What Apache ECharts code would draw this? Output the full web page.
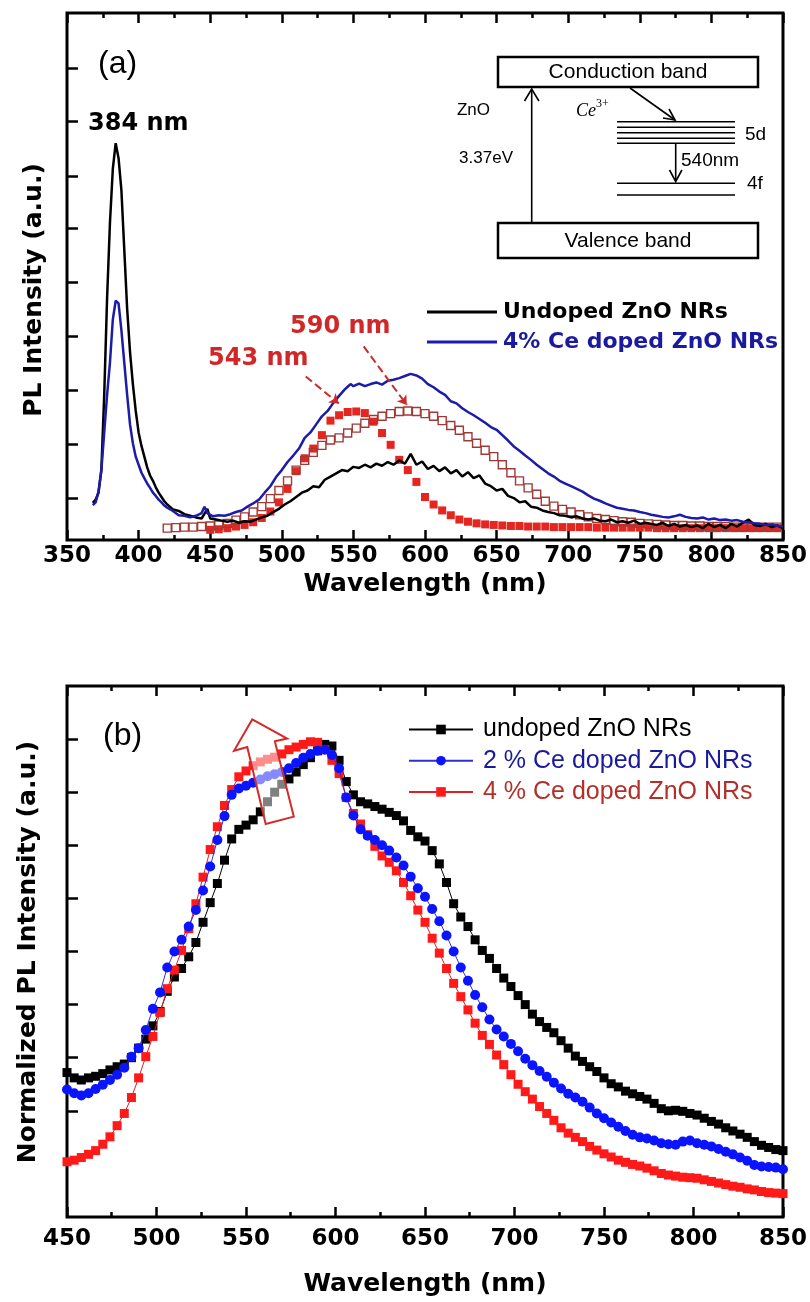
<!DOCTYPE html>
<html><head><meta charset="utf-8">
<script src="https://cdn.jsdelivr.net/npm/echarts@6/dist/echarts.min.js"></script>
<style>html,body{margin:0;padding:0;background:#fff}#c{width:810px;height:1302px}</style>
</head><body><div id="c"></div>
<script>
// ---------- Panel (a) data: [wavelength nm, PL intensity a.u.] ----------
const undopedA = [[368,0.069],[370,0.075],[372,0.088],[374,0.13],[376,0.27],[378,0.45],[380,0.59],[382,0.69],[384,0.738],[386,0.71],[388,0.65],[390,0.54],[392,0.43],[394,0.35],[396,0.29],[398,0.24],[400,0.2],[402,0.175],[404,0.155],[406,0.135],[408,0.12],[410,0.11],[412,0.098],[414,0.088],[416,0.08],[418,0.072],[420,0.066],
[424,0.057],[428,0.054],[432,0.048],[436,0.045],[440,0.042],[444,0.04],[448,0.058],[450,0.04],[454,0.038],[458,0.036],[462,0.034],[466,0.036],[470,0.032],[474,0.035],[478,0.034],[482,0.038],[486,0.042],[490,0.045],[494,0.052],[498,0.058],[502,0.066],[506,0.072],[510,0.08],[514,0.088],[518,0.092],[522,0.1],[526,0.098],[530,0.112],[534,0.118],[538,0.124],[542,0.13],[546,0.128],[550,0.136],[554,0.134],[558,0.14],[562,0.135],[566,0.142],[570,0.138],[574,0.145],[578,0.14],[582,0.148],[586,0.142],[590,0.16],[594,0.14],[598,0.146],[602,0.132],[606,0.138],[610,0.128],[614,0.135],[618,0.124],[622,0.13],[626,0.118],[630,0.126],[634,0.115],[638,0.12],[642,0.105],[646,0.1],[650,0.092],[654,0.095],[658,0.082],[662,0.078],[666,0.07],[670,0.072],[674,0.062],[678,0.06],[682,0.055],[686,0.052],[690,0.05],[694,0.046],[698,0.045],[702,0.042],[706,0.044],[710,0.04],[714,0.038],[718,0.04],[722,0.036],[726,0.035],[730,0.038],[734,0.033],[738,0.035],[742,0.032],[746,0.036],[750,0.03],[754,0.032],[758,0.03],[762,0.028],[766,0.032],[770,0.026],[774,0.03],[778,0.025],[782,0.028],[786,0.024],[790,0.027],[794,0.022],[798,0.03],[802,0.024],[806,0.028],[810,0.022],[814,0.03],[818,0.025],[822,0.032],[826,0.038],[830,0.028],[834,0.026],[838,0.03],[842,0.024],[846,0.027],[850,0.022]];

const ce4A = [[368,0.065],[370,0.07],[372,0.09],[374,0.13],[376,0.2],[378,0.27],[380,0.33],[382,0.41],[384,0.445],[386,0.44],[388,0.39],[390,0.33],[392,0.27],[394,0.215],[396,0.18],[398,0.155],[400,0.14],[402,0.125],[404,0.115],[406,0.105],[408,0.097],[410,0.088],[412,0.082],[414,0.075],[416,0.07],[418,0.064],[420,0.06],
[424,0.054],[428,0.046],[432,0.045],[436,0.042],[440,0.045],[444,0.05],[446,0.062],[448,0.05],[452,0.044],[456,0.046],[460,0.045],[464,0.048],[468,0.052],[472,0.055],[476,0.062],[480,0.068],[484,0.075],[488,0.088],[492,0.1],[496,0.117],[500,0.13],[504,0.145],[508,0.157],[512,0.17],[516,0.19],[520,0.2],[524,0.215],[528,0.23],[532,0.24],[536,0.255],[540,0.268],[544,0.28],[546,0.285],[548,0.29],[550,0.286],[554,0.291],[558,0.286],[562,0.29],[566,0.293],[570,0.289],[574,0.296],[578,0.298],[582,0.301],[586,0.305],[590,0.309],[594,0.306],[598,0.3],[602,0.29],[606,0.284],[610,0.276],[614,0.27],[618,0.258],[622,0.254],[626,0.245],[630,0.238],[634,0.232],[638,0.225],[642,0.218],[646,0.21],[650,0.205],[654,0.195],[658,0.185],[662,0.174],[666,0.166],[670,0.157],[674,0.149],[678,0.14],[682,0.132],[686,0.124],[690,0.118],[694,0.11],[698,0.105],[702,0.1],[706,0.095],[710,0.09],[714,0.083],[718,0.077],[722,0.073],[726,0.068],[730,0.064],[734,0.06],[738,0.058],[742,0.056],[746,0.055],[750,0.052],[754,0.05],[758,0.047],[762,0.045],[766,0.043],[770,0.042],[774,0.044],[778,0.047],[782,0.043],[786,0.041],[790,0.04],[794,0.042],[798,0.038],[802,0.04],[806,0.037],[810,0.038],[814,0.036],[818,0.037],[822,0.034],[826,0.033],[830,0.031],[834,0.03],[838,0.028],[842,0.029],[846,0.026],[850,0.025]];

// 543 nm emission component (filled red squares)
const band543A = [[450,0.019],[456,0.02],[462,0.022],[468,0.025],[474,0.028],[480,0.033],[486,0.041],[492,0.053],[498,0.07],[504,0.095],[510,0.128],[516,0.152],[522,0.17],[528,0.195],[534,0.222],[540,0.232],[546,0.238],[552,0.239],[558,0.236],[564,0.22],[570,0.199],[576,0.177],[582,0.149],[588,0.13],[594,0.108],[600,0.08],[606,0.066],[612,0.055],[618,0.046],[624,0.038],[630,0.034],[636,0.031],[642,0.029],[648,0.028],[654,0.027],[660,0.026],[666,0.026],[672,0.025],[678,0.025],[684,0.025],[690,0.024],[696,0.024],[702,0.024],[708,0.024],[714,0.024],[720,0.023],[726,0.023],[732,0.023],[738,0.023],[744,0.023],[750,0.023],[756,0.023],[762,0.022],[768,0.022],[774,0.022],[780,0.022],[786,0.022],[792,0.022],[798,0.022],[804,0.022],[810,0.022],[816,0.022],[822,0.022],[828,0.022],[834,0.022],[840,0.022],[846,0.022]];

// 590 nm emission component (open squares)
const band590A = [[420,0.022],[426,0.023],[432,0.024],[438,0.024],[444,0.025],[450,0.026],[456,0.028],[462,0.031],[468,0.037],[474,0.043],[480,0.052],[486,0.062],[492,0.077],[498,0.092],[504,0.11],[510,0.13],[516,0.148],[522,0.163],[528,0.176],[534,0.186],[540,0.19],[546,0.199],[552,0.208],[558,0.217],[564,0.224],[570,0.23],[576,0.235],[582,0.239],[588,0.24],[594,0.239],[600,0.235],[606,0.23],[612,0.222],[618,0.213],[624,0.204],[630,0.192],[636,0.18],[642,0.167],[648,0.155],[654,0.14],[660,0.125],[666,0.11],[672,0.097],[678,0.085],[684,0.072],[690,0.063],[696,0.057],[702,0.052],[708,0.047],[714,0.043],[720,0.04],[726,0.038],[732,0.036],[738,0.034],[744,0.033],[750,0.031],[756,0.03],[762,0.029],[768,0.028],[774,0.027],[780,0.027],[786,0.026],[792,0.026],[798,0.025],[804,0.025],[810,0.025],[816,0.024],[822,0.024],[828,0.024],[834,0.024],[840,0.024],[846,0.024]];

const X_TICKS_A = {min:350, max:850, step:50};
const Y_TICKS_A = [0.078,0.178,0.279,0.378,0.479,0.579,0.677,0.778,0.878];

// ---------- Panel (b) data: normalized PL intensity ----------
const WL_B = [450,454,458,462,466,470,474,478,482,486,490,494,498,502,506,510,514,518,522,526,530,534,538,542,546,550,554,558,562,566,570,574,578,582,586,590,594,598,602,606,610,614,618,622,626,630,634,638,642,646,650,654,658,662,666,670,674,678,682,686,690,694,698,702,706,710,714,718,722,726,730,734,738,742,746,750,754,758,762,766,770,774,778,782,786,790,794,798,802,806,810,814,818,822,826,830,834,838,842,846,850];

const undopedB = [0.272,0.262,0.258,0.262,0.265,0.27,0.277,0.283,0.288,0.3,0.318,0.335,0.36,0.387,0.425,0.452,0.468,0.49,0.517,0.555,0.592,0.628,0.672,0.712,0.73,0.738,0.748,0.763,0.782,0.8,0.815,0.825,0.838,0.852,0.865,0.878,0.89,0.887,0.86,0.82,0.795,0.782,0.778,0.773,0.768,0.762,0.756,0.746,0.728,0.716,0.708,0.69,0.665,0.63,0.59,0.565,0.547,0.522,0.502,0.487,0.468,0.45,0.434,0.417,0.4,0.382,0.368,0.357,0.347,0.332,0.318,0.303,0.293,0.283,0.274,0.262,0.251,0.245,0.237,0.232,0.227,0.222,0.214,0.204,0.2,0.201,0.199,0.195,0.192,0.186,0.18,0.175,0.168,0.162,0.156,0.15,0.142,0.135,0.131,0.127,0.125];

const ce2B = [0.24,0.233,0.229,0.233,0.241,0.249,0.258,0.268,0.281,0.302,0.318,0.352,0.392,0.423,0.47,0.5,0.522,0.547,0.578,0.615,0.66,0.71,0.755,0.795,0.807,0.812,0.818,0.824,0.83,0.834,0.838,0.845,0.855,0.865,0.872,0.878,0.88,0.87,0.845,0.79,0.756,0.73,0.718,0.71,0.7,0.69,0.677,0.662,0.641,0.619,0.603,0.58,0.557,0.53,0.5,0.47,0.445,0.418,0.395,0.372,0.353,0.34,0.326,0.312,0.298,0.286,0.275,0.264,0.253,0.242,0.232,0.225,0.217,0.206,0.195,0.186,0.178,0.17,0.162,0.155,0.15,0.148,0.144,0.139,0.137,0.136,0.142,0.144,0.139,0.136,0.133,0.128,0.123,0.118,0.112,0.106,0.098,0.095,0.094,0.093,0.09];

const ce4B = [0.104,0.107,0.112,0.118,0.125,0.137,0.151,0.172,0.195,0.225,0.262,0.302,0.34,0.385,0.43,0.465,0.502,0.543,0.59,0.64,0.692,0.735,0.775,0.805,0.829,0.84,0.85,0.857,0.862,0.866,0.872,0.88,0.885,0.89,0.895,0.894,0.88,0.86,0.835,0.79,0.76,0.74,0.72,0.698,0.68,0.668,0.652,0.63,0.605,0.578,0.555,0.525,0.497,0.468,0.44,0.415,0.39,0.365,0.342,0.325,0.305,0.287,0.268,0.25,0.236,0.222,0.208,0.195,0.182,0.168,0.158,0.15,0.142,0.133,0.126,0.119,0.113,0.107,0.103,0.099,0.096,0.092,0.087,0.082,0.079,0.077,0.075,0.074,0.073,0.07,0.067,0.064,0.061,0.058,0.056,0.053,0.051,0.048,0.046,0.045,0.044];

const X_TICKS_B = {min:450, max:850, step:50};
const Y_TICKS_B = [0.2,0.3,0.4,0.5,0.6,0.7,0.8,0.9];

// Hollow arrow annotation in panel (b), data coordinates [nm, a.u.]
const ARROW_B = [[553.5,0.937],[573,0.901],[566.1,0.896],[576.7,0.754],[561,0.740],[550.7,0.885],[543.3,0.878]];

// Dashed pointers in panel (a), data coordinates
const POINTERS_A = [[[516.7,0.304],[539.8,0.254]],[[557.2,0.36],[587.3,0.251]]];

const NAMES_A = ['Undoped ZnO NRs','4% Ce doped ZnO NRs'];
const NAMES_B = ['undoped ZnO NRs','2 % Ce doped ZnO NRs','4 % Ce doped ZnO NRs'];

// ---------------------------------------------------------------
const BOLD = '"DejaVu Sans"';
const REG = '"Liberation Sans", Arial';
const zipB = v => v.map((y,i)=>[WL_B[i], y]);

function xAxes(grid, t, labelMargin, nameGap) {
  const tick = {show:true, inside:true, length:10, lineStyle:{color:'#000', width:2.5}};
  const minor = {show:true, splitNumber:2, length:5, lineStyle:{color:'#000', width:2.5}};
  return [
    {type:'value', gridIndex:grid, position:'bottom', min:t.min, max:t.max, interval:t.step,
     axisLine:{show:false}, axisTick:tick, minorTick:minor, splitLine:{show:false}, minorSplitLine:{show:false},
     axisLabel:{show:true, margin:labelMargin, fontFamily:BOLD, fontWeight:'bold', fontSize:23, color:'#000'},
     name:'Wavelength (nm)', nameLocation:'middle', nameGap:nameGap,
     nameTextStyle:{fontFamily:BOLD, fontWeight:'bold', fontSize:25, color:'#000'}},
    {type:'value', gridIndex:grid, position:'top', min:t.min, max:t.max, interval:t.step,
     axisLine:{show:false}, axisTick:tick, minorTick:minor, splitLine:{show:false}, minorSplitLine:{show:false},
     axisLabel:{show:false}}
  ];
}
function yAxis(grid, min, max, ticks) {
  return {type:'value', gridIndex:grid, min:min, max:max,
    axisLine:{show:false}, splitLine:{show:false}, axisLabel:{show:false},
    axisTick:{show:true, inside:true, length:11, customValues:ticks, lineStyle:{color:'#000', width:2.5}}};
}
function txt(x, y, text, font, fill, align, extra) {
  return Object.assign({type:'text', x:x, y:y, silent:true,
    style:{text:text, font:font, fill:fill, align:align||'left', verticalAlign:'middle',
           textAlign:align||'left', textVerticalAlign:'middle'}}, extra||{});
}
function ln(x1,y1,x2,y2,w) { return {type:'line', silent:true, shape:{x1,y1,x2,y2}, style:{stroke:'#000', lineWidth:w||1.6}}; }
function pl(pts,w) { return {type:'polyline', silent:true, shape:{points:pts}, style:{stroke:'#000', fill:'none', lineWidth:w||1.6}}; }

const inset = [
  {type:'rect', silent:true, shape:{x:498,y:57,width:260,height:30}, style:{fill:'#fff', stroke:'#000', lineWidth:2.5}},
  txt(628,72,'Conduction band','21px '+REG,'#000','center'),
  {type:'rect', silent:true, shape:{x:498,y:223,width:260,height:35}, style:{fill:'#fff', stroke:'#000', lineWidth:2.5}},
  txt(628,241,'Valence band','21px '+REG,'#000','center'),
  ln(531.7,222,531.7,89), pl([[524.5,101],[531.7,89],[538.9,101]]),
  ln(630,88,675,120), pl([[663,118],[675,120],[669,109]]),
  ln(617,121.7,735,121.7), ln(617,127.3,735,127.3), ln(617,132.7,735,132.7), ln(617,138.3,735,138.3), ln(617,143.3,735,143.3),
  ln(675.7,144,675.7,181), pl([[669.5,170],[675.7,181.5],[681.9,170]]),
  ln(617,183.3,735,183.3), ln(617,195,735,195),
  txt(490,110,'ZnO','17px '+REG,'#000','right'),
  txt(513,158,'3.37eV','17px '+REG,'#000','right'),
  txt(576,111,'Ce','italic 18px "Liberation Serif"','#000','left'),
  txt(596,104,'3+','12px "Liberation Serif"','#000','left'),
  txt(745,135,'5d','19px '+REG,'#000','left'),
  txt(747,184,'4f','19px '+REG,'#000','left'),
  txt(681,161,'540nm','19px '+REG,'#000','left')
];

const graphics = [
  txt(98,64,'(a)','32px '+REG,'#000','left'),
  txt(88,124,'384 nm','bold 24px '+BOLD,'#000','left'),
  txt(290,327,'590 nm','bold 24px '+BOLD,'#d02828','left'),
  txt(208,359,'543 nm','bold 24px '+BOLD,'#d02828','left'),
  txt(34,290,'PL Intensity (a.u.)','bold 25px '+BOLD,'#000','center',{rotation:Math.PI/2}),
  txt(103,736,'(b)','32px '+REG,'#000','left'),
  txt(28,952,'Normalized PL Intensity (a.u.)','bold 25px '+BOLD,'#000','center',{rotation:Math.PI/2})
].concat(inset);

const option = {
  animation:false,
  backgroundColor:'#fff',
  grid:[
    {left:67, top:13, width:719, height:527, show:true, borderColor:'#000', borderWidth:3, backgroundColor:'transparent'},
    {left:67, top:686, width:720, height:531, show:true, borderColor:'#000', borderWidth:3, backgroundColor:'transparent'}
  ],
  xAxis: xAxes(0, X_TICKS_A, 5, 32).concat(xAxes(1, X_TICKS_B, 11, 55)),
  yAxis: [yAxis(0, 0, 0.98, Y_TICKS_A), yAxis(1, 0, 1, Y_TICKS_B)],
  legend:[
    {data:[{name:NAMES_A[0], icon:'rect', itemStyle:{color:'#000'}, textStyle:{color:'#000'}},
           {name:NAMES_A[1], icon:'rect', itemStyle:{color:'#1c1ca8'}, textStyle:{color:'#1a1aa0'}}],
     orient:'vertical', left:427, top:301, padding:0, itemWidth:70, itemHeight:3, itemGap:8, selectedMode:false,
     textStyle:{fontFamily:BOLD, fontWeight:'bold', fontSize:22, padding:[0,0,0,1]}},
    {data:[{name:NAMES_B[0], textStyle:{color:'#000'}},{name:NAMES_B[1], textStyle:{color:'#1a1a9a'}},{name:NAMES_B[2], textStyle:{color:'#b3302a'}}],
     orient:'vertical', left:408, top:717, padding:0, itemWidth:64, itemHeight:12, itemGap:6.2, selectedMode:false,
     textStyle:{fontFamily:REG, fontSize:25, padding:[0,0,0,5]}}
  ],
  graphic: graphics,
  series:[
    {name:'543 nm band', type:'scatter', xAxisIndex:0, yAxisIndex:0, data:band543A, symbol:'rect', symbolSize:8,
     itemStyle:{color:'#e52620', opacity:1}, z:2, silent:true,
     markLine:{silent:true, symbol:['none','arrow'], symbolSize:9, label:{show:false},
       lineStyle:{color:'#d02828', type:'dashed', width:2},
       data: POINTERS_A.map(p=>[{coord:p[0]},{coord:p[1]}])}},
    {name:'590 nm band', type:'scatter', xAxisIndex:0, yAxisIndex:0, data:band590A, symbol:'rect', symbolSize:8,
     itemStyle:{color:'rgba(255,255,255,0)', borderColor:'#a03a36', borderWidth:1.4, opacity:1}, z:2, silent:true},
    {name:NAMES_A[0], type:'line', xAxisIndex:0, yAxisIndex:0, data:undopedA, symbol:'none', showSymbol:false,
     lineStyle:{color:'#000', width:2.5}, itemStyle:{color:'#000'}, z:3},
    {name:NAMES_A[1], type:'line', xAxisIndex:0, yAxisIndex:0, data:ce4A, symbol:'none', showSymbol:false,
     lineStyle:{color:'#1c1ca8', width:2.5}, itemStyle:{color:'#1c1ca8'}, z:4},

    {name:NAMES_B[0], type:'line', xAxisIndex:2, yAxisIndex:1, data:zipB(undopedB), symbol:'rect', symbolSize:9, showAllSymbol:true,
     lineStyle:{color:'#000', width:1}, itemStyle:{color:'#000'}, z:3},
    {name:NAMES_B[2], type:'line', xAxisIndex:2, yAxisIndex:1, data:zipB(ce4B), symbol:'rect', symbolSize:9, showAllSymbol:true,
     lineStyle:{color:'#e02020', width:1}, itemStyle:{color:'#ff1a1a'}, z:4},
    {name:NAMES_B[1], type:'line', xAxisIndex:2, yAxisIndex:1, data:zipB(ce2B), symbol:'circle', symbolSize:10, showAllSymbol:true,
     lineStyle:{color:'#3030d0', width:1}, itemStyle:{color:'#0a14ff'}, z:5},
    {name:'arrow', type:'custom', xAxisIndex:2, yAxisIndex:1, data:[[560,0.85]], z:10, silent:true,
     renderItem:function(params, api){
       return {type:'polygon', shape:{points:ARROW_B.map(p=>api.coord(p))},
               style:{fill:'rgba(255,255,255,0.5)', stroke:'#d42a2a', lineWidth:2}};
     }}
  ]
};
const chart = echarts.init(document.getElementById('c'));
chart.setOption(option);
</script></body></html>
